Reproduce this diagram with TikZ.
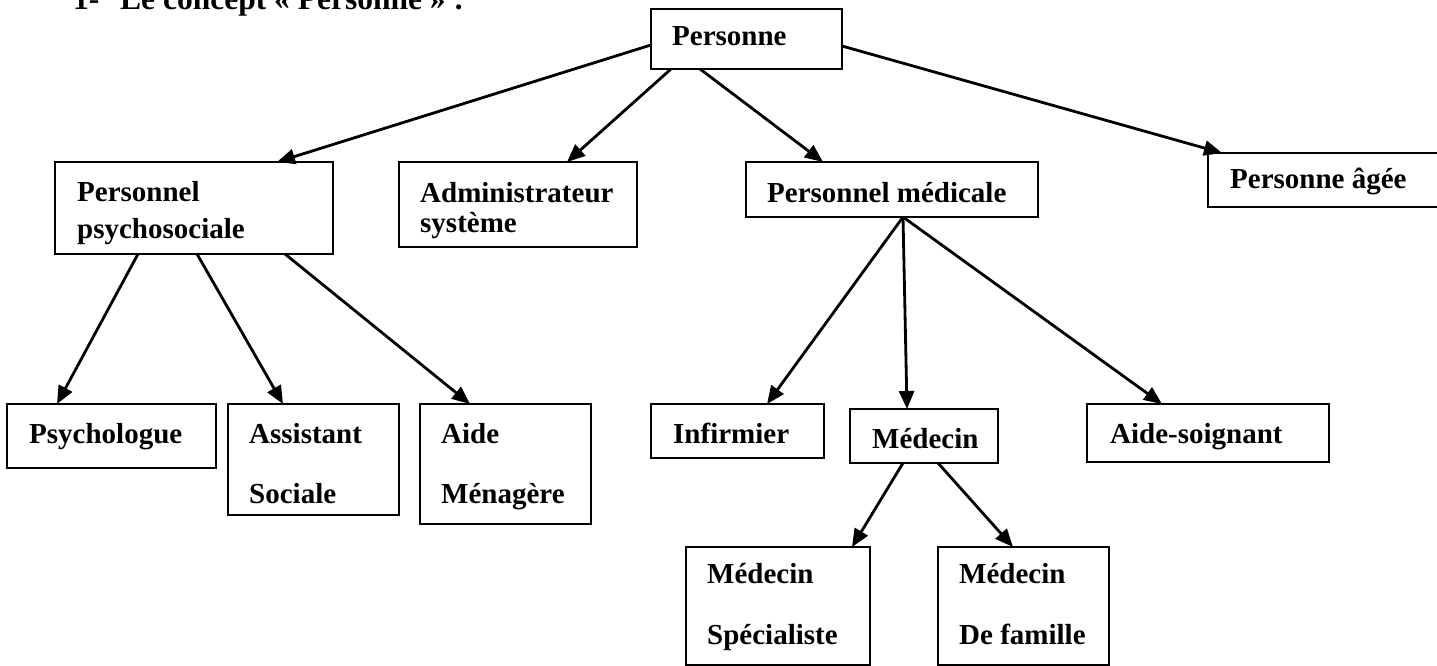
\documentclass[tikz,border=0pt]{standalone}
\usepackage{fontspec}
\setmainfont{Liberation Serif}
\usetikzlibrary{arrows.meta}
\begin{document}
\tikzset{
  box/.style={draw, line width=2.2pt, anchor=north west, inner sep=0pt, outer sep=0pt},
  lbl/.style={anchor=base west, inner sep=0pt, font=\fontsize{29}{29}\selectfont\bfseries},
  ttl/.style={anchor=base west, inner sep=0pt, font=\fontsize{31.5}{31.5}\selectfont\bfseries},
  arr/.style={line width=2.8pt, -{Triangle[length=18pt,width=15pt]}},
}
\begin{tikzpicture}[x=1pt,y=-1pt]
\clip (0,0) rectangle (1437,666);

% heading
\node[ttl] (num) at (73,10) {1-};
\node[ttl] (title) at (120,10) {Le concept « Personne » :};

% boxes
\node[box, minimum width=191pt, minimum height=60pt]  (pers)    at (651,9)   {};
\node[box, minimum width=278pt, minimum height=92pt]  (psy)     at (55,162)  {};
\node[box, minimum width=238pt, minimum height=85pt]  (admin)   at (399,162) {};
\node[box, minimum width=292pt, minimum height=55pt]  (med)     at (746,162) {};
\node[box, minimum width=250pt, minimum height=54pt]  (agee)    at (1208,153) {};
\node[box, minimum width=209pt, minimum height=64pt]  (psyc)    at (7,404)   {};
\node[box, minimum width=171pt, minimum height=111pt] (assist)  at (228,404) {};
\node[box, minimum width=171pt, minimum height=120pt] (aide)    at (420,404) {};
\node[box, minimum width=173pt, minimum height=54pt]  (inf)     at (651,404) {};
\node[box, minimum width=148pt, minimum height=54pt]  (medecin) at (850,409) {};
\node[box, minimum width=242pt, minimum height=58pt]  (soign)   at (1087,404) {};
\node[box, minimum width=184pt, minimum height=118pt] (spec)    at (686,547) {};
\node[box, minimum width=171pt, minimum height=118pt] (fam)     at (938,547) {};

% labels
\node[lbl] (t-pers)    at (672,46)  {Personne};
\node[lbl] (t-psy1)    at (77,201)  {Personnel};
\node[lbl] (t-psy2)    at (77,238)  {psychosociale};
\node[lbl] (t-admin1)  at (420,202) {Administrateur};
\node[lbl] (t-admin2)  at (420,232) {système};
\node[lbl] (t-med)     at (767,202) {Personnel médicale};
\node[lbl] (t-agee)    at (1230,188) {Personne âgée};
\node[lbl] (t-psyc)    at (29,443)  {Psychologue};
\node[lbl] (t-assist1) at (249,443) {Assistant};
\node[lbl] (t-assist2) at (249,503) {Sociale};
\node[lbl] (t-aide1)   at (441,443) {Aide};
\node[lbl] (t-aide2)   at (441,503) {Ménagère};
\node[lbl] (t-inf)     at (673,443) {Infirmier};
\node[lbl] (t-medecin) at (872,448) {Médecin};
\node[lbl] (t-soign)   at (1110,443) {Aide-soignant};
\node[lbl] (t-spec1)   at (707,583) {Médecin};
\node[lbl] (t-spec2)   at (707,644) {Spécialiste};
\node[lbl] (t-fam1)    at (959,583) {Médecin};
\node[lbl] (t-fam2)    at (959,644) {De famille};

% connectors
\draw[arr] ([yshift=-36pt]pers.north west) -- ([xshift=222pt]psy.north west);
\draw[arr] ([xshift=20pt]pers.south west)  -- ([xshift=168pt]admin.north west);
\draw[arr] ([xshift=49pt]pers.south west)  -- ([xshift=77pt]med.north west);
\draw[arr] ([yshift=-37pt]pers.north east) -- ([xshift=14pt]agee.north west);

\draw[arr] ([xshift=83pt]psy.south west)  -- ([xshift=50pt]psyc.north west);
\draw[arr] ([xshift=142pt]psy.south west) -- ([xshift=55pt]assist.north west);
\draw[arr] ([xshift=230pt]psy.south west) -- ([xshift=50pt]aide.north west);

\draw[arr] ([xshift=157pt]med.south west) -- ([xshift=116pt]inf.north west);
\draw[arr] ([xshift=157pt]med.south west) -- ([xshift=57pt]medecin.north west);
\draw[arr] ([xshift=157pt]med.south west) -- ([xshift=75pt]soign.north west);

\draw[arr] ([xshift=53pt]medecin.south west) -- ([xshift=166pt]spec.north west);
\draw[arr] ([xshift=88pt]medecin.south west) -- ([xshift=75pt]fam.north west);
\end{tikzpicture}
\end{document}
